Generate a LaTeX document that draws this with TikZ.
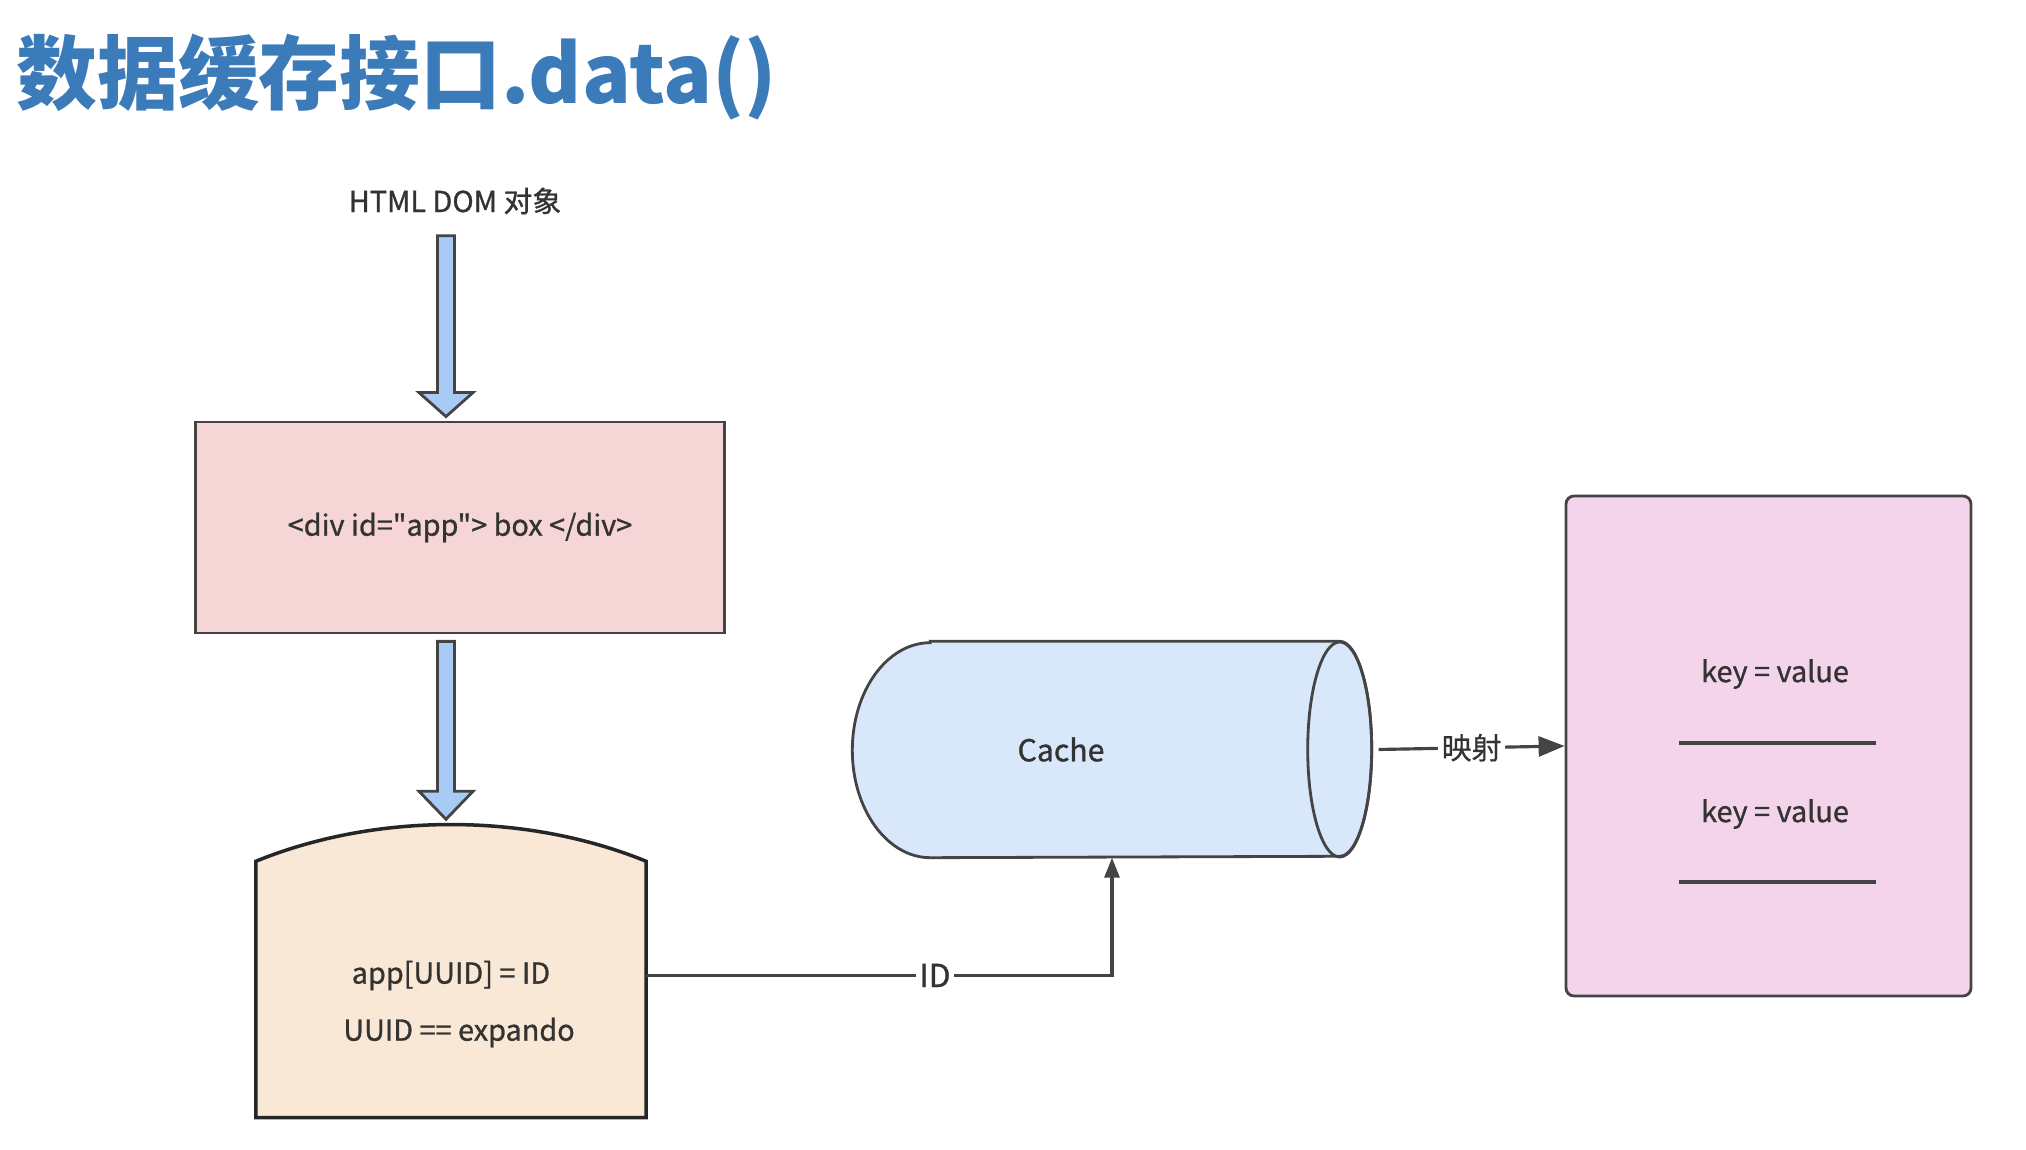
\documentclass[tikz,border=0pt]{standalone}
\usepackage{fontspec}
\setmainfont{Noto Sans CJK SC}[Ligatures=TeXOff]
\usepackage{xcolor}
\usetikzlibrary{calc}
\usetikzlibrary{arrows.meta}

\definecolor{titleblue}{HTML}{3B7BB9}
\definecolor{txtgray}{HTML}{333333}
\definecolor{linegray}{HTML}{444444}
\definecolor{divpink}{HTML}{F5D5D5}
\definecolor{storetan}{HTML}{FAE8D6}
\definecolor{cacheblue}{HTML}{D8E7FA}
\definecolor{kvpink}{HTML}{F4D4EA}
\definecolor{arrowblue}{HTML}{A8CBF5}

\tikzset{
boxtext/.style = {text=txtgray,
        font=\fontsize{8.2}{10}\selectfont\addfontfeatures{FakeBold=1}
            },
blockarrow/.style = {line width=0.8pt,
        draw=linegray,
        fill=arrowblue
            },
conn/.style = {line width=0.9pt,
        draw=linegray,
        -{Triangle[length=0.26cm,width=0.2cm]}
            },
% labels sitting on the connectors
conntext/.style = {fill=white,
        inner sep=1pt,
        text=txtgray,
        font=\fontsize{9}{11}\selectfont\addfontfeatures{FakeBold=1}
            }
        }

\begin{document}
\begin{tikzpicture}

\useasboundingbox (0,0) rectangle (20.26,-11.5);

%%% Title:

\node[
     anchor=west,
     text=titleblue,
     font=\fontsize{23}{27}\selectfont\bfseries,
     ] (title) at (0.04,-0.775) {数据缓存接口.data()};

%%% Defining nodes:

\node[boxtext] (dom) at (4.55,-2.01) {HTML DOM 对象};

\node[
     boxtext,
     draw=linegray,
     line width=0.8pt,
     fill=divpink,
     minimum width=5.29cm,
     minimum height=2.11cm,
     ] (divbox) at (4.60,-5.275) {<div id="app"> box </div>};

\node[
     minimum width=3.89cm,
     minimum height=2.55cm,
     inner sep=0pt,
     ] (store) at (4.51,-9.895) {};

\node[
     minimum width=5.18cm,
     minimum height=2.15cm,
     inner sep=0pt,
     ] (cache) at (11.12,-7.495) {};

\node[
     draw=linegray,
     line width=0.8pt,
     fill=kvpink,
     rounded corners=0.08cm,
     minimum width=4.05cm,
     minimum height=5.0cm,
     ] (kvbox) at (17.685,-7.46) {};

%%% Shapes:

\draw[
     line width=1pt,
     draw=black!85,
     fill=storetan,
     ]
     (store.south west) --
     (store.north west) ..
     controls ($(store.north west)+(1.2,0.49)$) and ($(store.north east)+(-1.2,0.49)$) ..
     (store.north east) --
     (store.south east) --
     cycle;

\draw[
     line width=0.8pt,
     draw=linegray,
     fill=cacheblue,
     ]
     ($(cache.north west)+(0.78,0)$) --
     ($(cache.north east)+(-0.32,0)$)
     arc[start angle=90, end angle=-90, x radius=0.32, y radius=1.075] --
     ($(cache.south west)+(0.78,0)$)
     arc[start angle=270, end angle=90, x radius=0.78, y radius=1.075] --
     cycle;

\draw[
     line width=0.8pt,
     draw=linegray,
     ]
     ($(cache.east)+(-0.32,0)$) ellipse [x radius=0.32, y radius=1.075];

\draw[line width=1pt, draw=linegray]
     ($(kvbox.center)+(-0.9,0.03)$) -- ($(kvbox.center)+(1.07,0.03)$);
\draw[line width=1pt, draw=linegray]
     ($(kvbox.center)+(-0.9,-1.36)$) -- ($(kvbox.center)+(1.07,-1.36)$);

%%% Texts in the shapes:

\node[boxtext] (uuidA) at ($(store.center)+(0,0.14)$) {app[UUID] = ID};
\node[boxtext] (uuidB) at ($(store.center)+(0.08,-0.43)$) {UUID == expando};

\node[boxtext, font=\fontsize{8.6}{10}\selectfont\addfontfeatures{FakeBold=1}] (cachetext) at ($(cache.center)+(-0.51,0)$) {Cache};

\node[boxtext] (kvA) at ($(kvbox.center)+(0.065,0.72)$) {key = value};
\node[boxtext] (kvB) at ($(kvbox.center)+(0.065,-0.68)$) {key = value};

%%% Block arrows:

\coordinate (A1top) at ($(dom.south)+(-0.09,-0.09)$);
\coordinate (A1tip) at (A1top |- divbox.north);

\draw[blockarrow]
     ($(A1top)+(-0.085,0)$) --
     ($(A1top)+(0.085,0)$) --
     ($(A1tip)+(0.085,0.28)$) --
     ($(A1tip)+(0.27,0.28)$) --
     ($(A1tip)+(0,0.04)$) --
     ($(A1tip)+(-0.27,0.28)$) --
     ($(A1tip)+(-0.085,0.28)$) --
     cycle;

\coordinate (A2top) at ($(divbox.south)+(-0.14,-0.07)$);
\coordinate (A2tip) at ($(A2top |- store.north)+(0,0.42)$);

\draw[blockarrow]
     ($(A2top)+(-0.085,0)$) --
     ($(A2top)+(0.085,0)$) --
     ($(A2tip)+(0.085,0.28)$) --
     ($(A2tip)+(0.27,0.28)$) --
     (A2tip) --
     ($(A2tip)+(-0.27,0.28)$) --
     ($(A2tip)+(-0.085,0.28)$) --
     cycle;

%%% Connectors:

\draw[conn, -{Triangle[length=0.2cm,width=0.15cm]}]
     (store.east |- uuidA) -|
     node[conntext, pos=0.31] {ID}
     (cache.south);

\draw[conn]
     ($(cache.east)+(0.07,0)$) --
     node[conntext, font=\fontsize{8.5}{10}\selectfont\addfontfeatures{FakeBold=0.6}] {映射}
     (kvbox.west);

\end{tikzpicture}
\end{document}
